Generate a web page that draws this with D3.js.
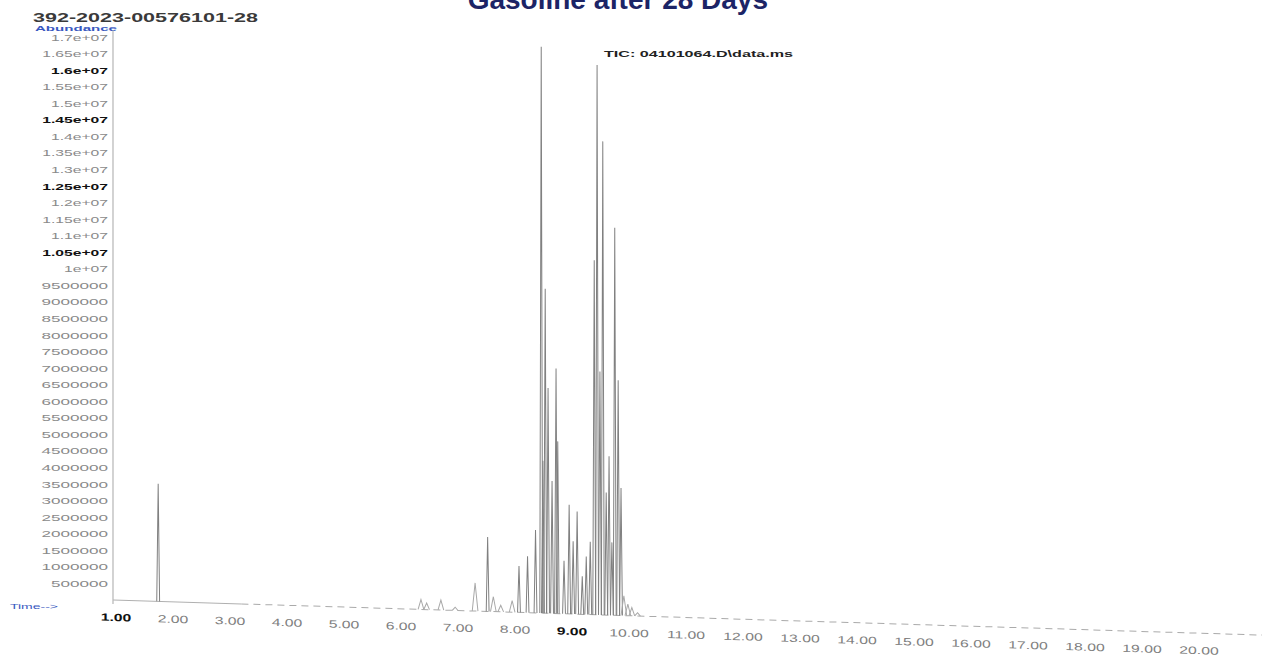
<!DOCTYPE html>
<html lang="en">
<head>
    <meta charset="utf-8" />
    <title>Chromatogram</title>
    <script src="https://cdnjs.cloudflare.com/ajax/libs/d3/7.8.5/d3.min.js"></script>
    <style>
        body { margin: 0; background: #fff; }
        text { font-family: "Liberation Sans", Arial, sans-serif; }
    </style>
</head>
<body>
<div id="chart"></div>

<script>
    // y tick labels as printed on the trace
    const yTickLabels = [
        "1.7e+07", "1.65e+07", "1.6e+07", "1.55e+07", "1.5e+07", "1.45e+07", "1.4e+07",
        "1.35e+07", "1.3e+07", "1.25e+07", "1.2e+07", "1.15e+07", "1.1e+07", "1.05e+07",
        "1e+07", "9500000", "9000000", "8500000", "8000000", "7500000", "7000000",
        "6500000", "6000000", "5500000", "5000000", "4500000", "4000000", "3500000",
        "3000000", "2500000", "2000000", "1500000", "1000000", "500000"
    ];
    // labels printed darker in the scan
    const yDarkLabels = ["1.6e+07", "1.45e+07", "1.25e+07", "1.05e+07"];

    const xTickLabels = ["1.00", "2.00", "3.00", "4.00", "5.00", "6.00", "7.00", "8.00", "9.00", "10.00",
        "11.00", "12.00", "13.00", "14.00", "15.00", "16.00", "17.00", "18.00", "19.00", "20.00"];
    const xDarkLabels = ["1.00", "9.00"];

    // retention time (min) and abundance of each peak
    const peakTimes = [
        1.74, 6.35, 6.45, 6.70, 6.95, 7.30, 7.52, 7.62, 7.75, 7.95,
        8.07, 8.22, 8.36, 8.46, 8.49, 8.53, 8.58, 8.65, 8.72, 8.75,
        8.86, 8.95, 9.02, 9.09, 9.18, 9.25, 9.32, 9.39, 9.44, 9.49,
        9.54, 9.60, 9.65, 9.70, 9.75, 9.81, 9.86, 9.91, 9.98, 10.05, 10.15
    ];
    const peakHeights = [
        3550000, 300000, 200000, 300000, 100000, 850000, 2250000, 450000, 200000, 350000,
        1400000, 1700000, 2500000, 17100000, 4600000, 9800000, 6800000, 4000000, 7400000, 5200000,
        1600000, 3300000, 2200000, 3100000, 1150000, 1750000, 2200000, 10700000, 16600000, 7350000,
        14300000, 3700000, 4800000, 2200000, 11700000, 7100000, 3850000, 600000, 350000, 250000, 100000
    ];

    // baseline of the trace: solid part, then noisy part
    const solidBaseline = [0.95, 3.2];
    const noisyBaseline = [3.2, 21.3];

    const width = 1262;
    const height = 660;

    const svg = d3.select("#chart")
        .append("svg")
        .attr("width", width)
        .attr("height", height);

    const x = d3.scaleLinear().domain([1, 20]).range([116, 1199]);
    const y = d3.scaleLinear().domain([0, 1.7e7]).range([600, 37]);

    // title, cut at the top of the scan
    svg.append("text")
        .attr("x", 768).attr("y", 9)
        .attr("text-anchor", "end")
        .style("font-size", "28px").style("font-weight", "bold")
        .attr("fill", "#1c2466")
        .text("Gasoline after 28 Days");

    svg.append("text")
        .attr("x", 33).attr("y", 22)
        .attr("textLength", 225).attr("lengthAdjust", "spacingAndGlyphs")
        .style("font-size", "12.5px").style("font-weight", "bold")
        .attr("fill", "#3a3a3a")
        .text("392-2023-00576101-28");

    svg.append("text")
        .attr("x", 35).attr("y", 31)
        .attr("textLength", 82).attr("lengthAdjust", "spacingAndGlyphs")
        .style("font-size", "7px").style("font-weight", "bold")
        .attr("fill", "#3858c0")
        .text("Abundance");

    svg.append("text")
        .attr("x", 604).attr("y", 57)
        .attr("textLength", 189).attr("lengthAdjust", "spacingAndGlyphs")
        .style("font-size", "8.5px").style("font-weight", "bold")
        .attr("fill", "#222")
        .text("TIC: 04101064.D\\data.ms");

    svg.append("text")
        .attr("x", 10).attr("y", 609)
        .attr("textLength", 48).attr("lengthAdjust", "spacingAndGlyphs")
        .style("font-size", "7px")
        .attr("fill", "#3858c0")
        .text("Time-->");

    // y axis line
    svg.append("line")
        .attr("x1", x(1) - 3).attr("x2", x(1) - 3)
        .attr("y1", y(1.72e7)).attr("y2", y(-1.2e5))
        .attr("stroke", "#b5b5b5").attr("stroke-width", 1.2);

    // y tick labels, stretched like the printout
    svg.selectAll(".ylab")
        .data(yTickLabels)
        .join("text")
        .attr("class", "ylab")
        .attr("transform", d => `translate(108,${y(+d) + 3.5}) scale(${d.includes("e") ? 1.65 : 1.8},1)`)
        .attr("text-anchor", "end")
        .style("font-size", "9.5px")
        .style("font-weight", d => yDarkLabels.includes(d) ? "bold" : "normal")
        .attr("fill", d => yDarkLabels.includes(d) ? "#111" : "#8a8a8a")
        .text(d => d);

    // plot area is slightly skewed like the scanned page
    const plot = svg.append("g")
        .attr("transform", "translate(113,0) skewY(1.75) translate(-113,0)");

    const line = d3.line().x(d => x(d[0])).y(d => y(d[1]));

    plot.append("path")
        .attr("d", line(solidBaseline.map(t => [t, 0])))
        .attr("fill", "none")
        .attr("stroke", "#b0b0b0").attr("stroke-width", 1);

    plot.append("path")
        .attr("d", line(noisyBaseline.map(t => [t, 0])))
        .attr("fill", "none")
        .attr("stroke", "#aaaaaa").attr("stroke-width", 1)
        .attr("stroke-dasharray", "7,5");

    const peaks = peakTimes.map((t, i) => ({ t: t, h: peakHeights[i] }));
    plot.selectAll(".peak")
        .data(peaks)
        .join("path")
        .attr("class", "peak")
        .attr("d", d => {
            const w = d.h > 1e6 ? 0.025 : 0.05;
            return line([[d.t - w, 0], [d.t, d.h], [d.t + w, 0]]);
        })
        .attr("fill", "none")
        .attr("stroke", d => d.h > 1e6 ? "#808080" : "#a8a8a8")
        .attr("stroke-width", 1);

    // x tick labels
    plot.selectAll(".xlab")
        .data(xTickLabels)
        .join("text")
        .attr("class", "xlab")
        .attr("transform", d => `translate(${x(+d)},${y(0) + 21}) scale(1.5,1)`)
        .attr("text-anchor", "middle")
        .style("font-size", "10.5px")
        .style("font-weight", d => xDarkLabels.includes(d) ? "bold" : "normal")
        .attr("fill", d => xDarkLabels.includes(d) ? "#111" : "#808080")
        .text(d => d);
</script>
</body>
</html>
